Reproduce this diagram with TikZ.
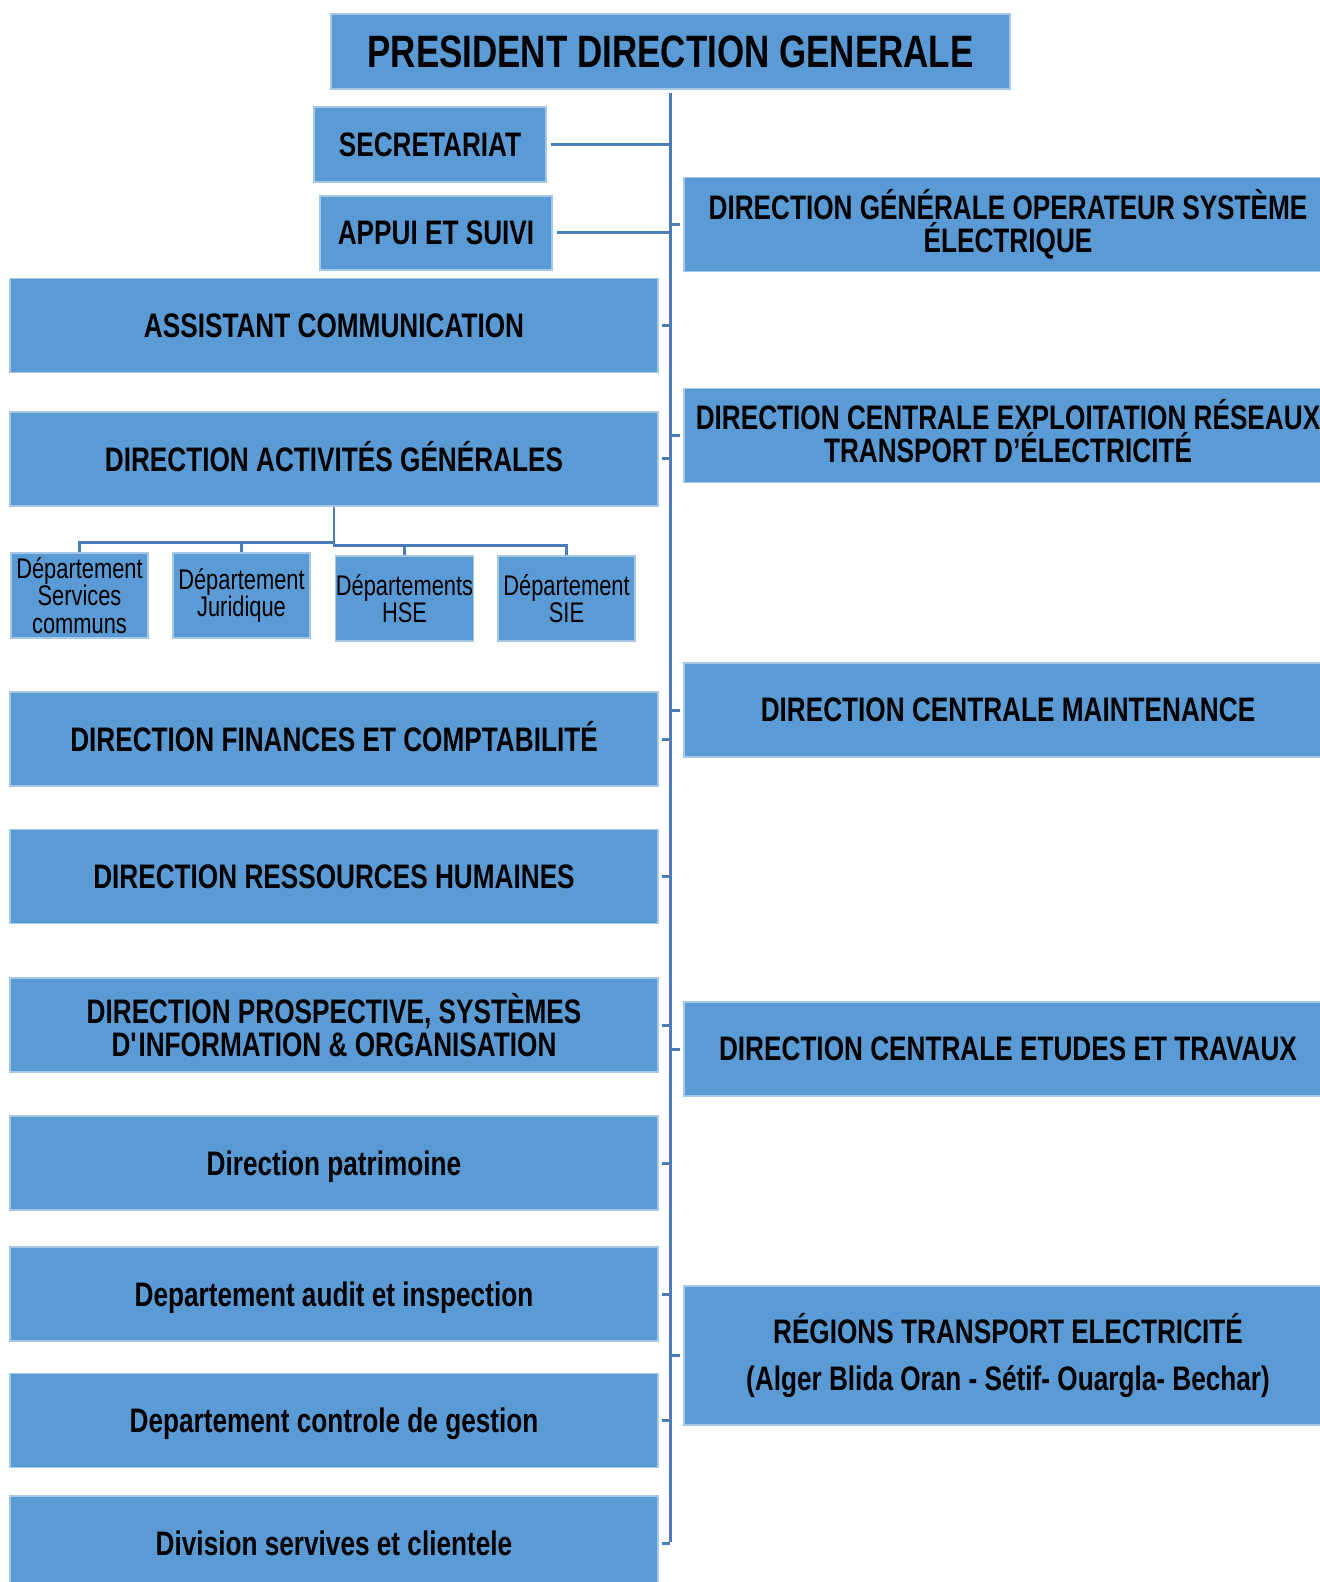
\documentclass[tikz,border=0pt]{standalone}
\usepackage{fontspec}
\setmainfont{Liberation Sans}[FakeStretch=0.77]
\definecolor{boxblue}{HTML}{5B9BD5}
\definecolor{linkblue}{HTML}{4A7EBB}
\newcommand{\capline}[1]{\raisebox{0pt}[12.2pt][0pt]{#1}}
\newcommand{\nodepth}[1]{\raisebox{0pt}[\height][0pt]{#1}}
\tikzset{
  unit/.style={fill=boxblue, draw=boxblue!55!white, line width=0.6pt, inner sep=0pt, align=center,
    font=\bfseries\fontsize{17}{16.5}\selectfont},
  wide/.style={unit, minimum width=324pt, minimum height=47pt},
  dept/.style={unit, minimum width=68.5pt, minimum height=42.5pt, font=\fontsize{14.2}{13.8}\selectfont},
  link/.style={linkblue, line width=1.5pt},
}
\begin{document}
\begin{tikzpicture}[x=0.5pt, y=-0.5pt]
  \useasboundingbox (0,0) rectangle (1320,1582);
  % top of the chart
  \node[unit, minimum width=339.5pt, minimum height=37.5pt, font=\bfseries\fontsize{22.7}{25}\selectfont] (pdg) at (670.5,51.5) {PRESIDENT DIRECTION GENERALE};
  \node[unit, minimum width=116pt, minimum height=37.5pt] (secr) at (430,144.5) {SECRETARIAT};
  \node[unit, minimum width=116pt, minimum height=37pt] (appui) at (436,233) {APPUI ET SUIVI};
  \coordinate (spinetop) at (670,93);
  \coordinate (spinebot) at (670,1542);
  \draw[link] (spinetop) -- (spinebot);
  \draw[link] ([xshift=2pt]secr.east) -- (secr.east -| spinetop);
  \draw[link] ([xshift=2pt]appui.east) -- (appui.east -| spinetop);

  % left column
  \node[wide] (assist) at (334,325.5) {ASSISTANT COMMUNICATION};
  \node[wide] (dag) at (334,459) {\capline{DIRECTION ACTIVITÉS GÉNÉRALES}};
  \node[wide] (dfc) at (334,739) {\capline{DIRECTION FINANCES ET COMPTABILITÉ}};
  \node[wide] (drh) at (334,876.5) {DIRECTION RESSOURCES HUMAINES};
  \node[wide] (dpsi) at (334,1025) {DIRECTION PROSPECTIVE, SYSTÈMES\\D\textquotesingle INFORMATION \& ORGANISATION};
  \node[wide] (patri) at (334,1163) {\nodepth{Direction patrimoine}};
  \node[wide] (audit) at (334,1294) {\nodepth{Departement audit et inspection}};
  \node[wide] (ctrl) at (334,1420.5) {\nodepth{Departement controle de gestion}};
  \node[wide] (divsc) at (334,1543) {Division servives et clientele};
  \foreach \n in {assist,dag,dfc,drh,dpsi,patri,audit,ctrl,divsc}
    \draw[link] ([xshift=1.5pt]\n.east) -- (\n.east -| spinetop);

  % departements under DAG
  \node[dept] (dsc) at (79.5,595.5) {Département\\Services\\communs};
  \node[dept] (djur) at (241.5,595.5) {Département\\Juridique};
  \node[dept] (dhse) at (404.5,598.5) {Départements\\HSE};
  \node[dept] (dsie) at (566.5,598.5) {Département\\SIE};
  \coordinate (fork) at (334,542);
  \draw[link, line width=1.2pt] (dag.south) -- (fork);
  \draw[link, line width=1.2pt] (dsc.north) -- ++(0,-10) -| (fork);
  \draw[link, line width=1.2pt] (djur.north) -- ++(0,-10);
  \draw[link, line width=1.2pt] (dsie.north) -- ++(0,-10) -| (fork);
  \draw[link, line width=1.2pt] (dhse.north) -- ++(0,-10);

  % right column
  \node[wide] (dgose) at (1008,224.5) {DIRECTION GÉNÉRALE OPERATEUR SYSTÈME\\ÉLECTRIQUE};
  \node[wide] (dcerte) at (1008,435.5) {};
  \node[align=center, font=\bfseries\fontsize{17}{16.5}\selectfont, inner sep=0pt] (dcertetxt) at ([yshift=2pt]dcerte.center) {DIRECTION CENTRALE EXPLOITATION RÉSEAUX\\TRANSPORT D’ÉLECTRICITÉ};
  \node[wide] (dcm) at (1008,710) {DIRECTION CENTRALE MAINTENANCE};
  \node[wide] (dcet) at (1008,1049) {DIRECTION CENTRALE ETUDES ET TRAVAUX};
  \node[wide, minimum height=69.5pt, font=\bfseries\fontsize{17}{23.25}\selectfont] (rte) at (1008,1355.5) {RÉGIONS TRANSPORT ELECTRICITÉ\\(Alger Blida Oran - Sétif- Ouargla- Bechar)};
  \foreach \n in {dgose,dcerte,dcm,dcet,rte}
    \draw[link] (\n.west -| spinetop) -- ([xshift=-1.5pt]\n.west);
\end{tikzpicture}
\end{document}
